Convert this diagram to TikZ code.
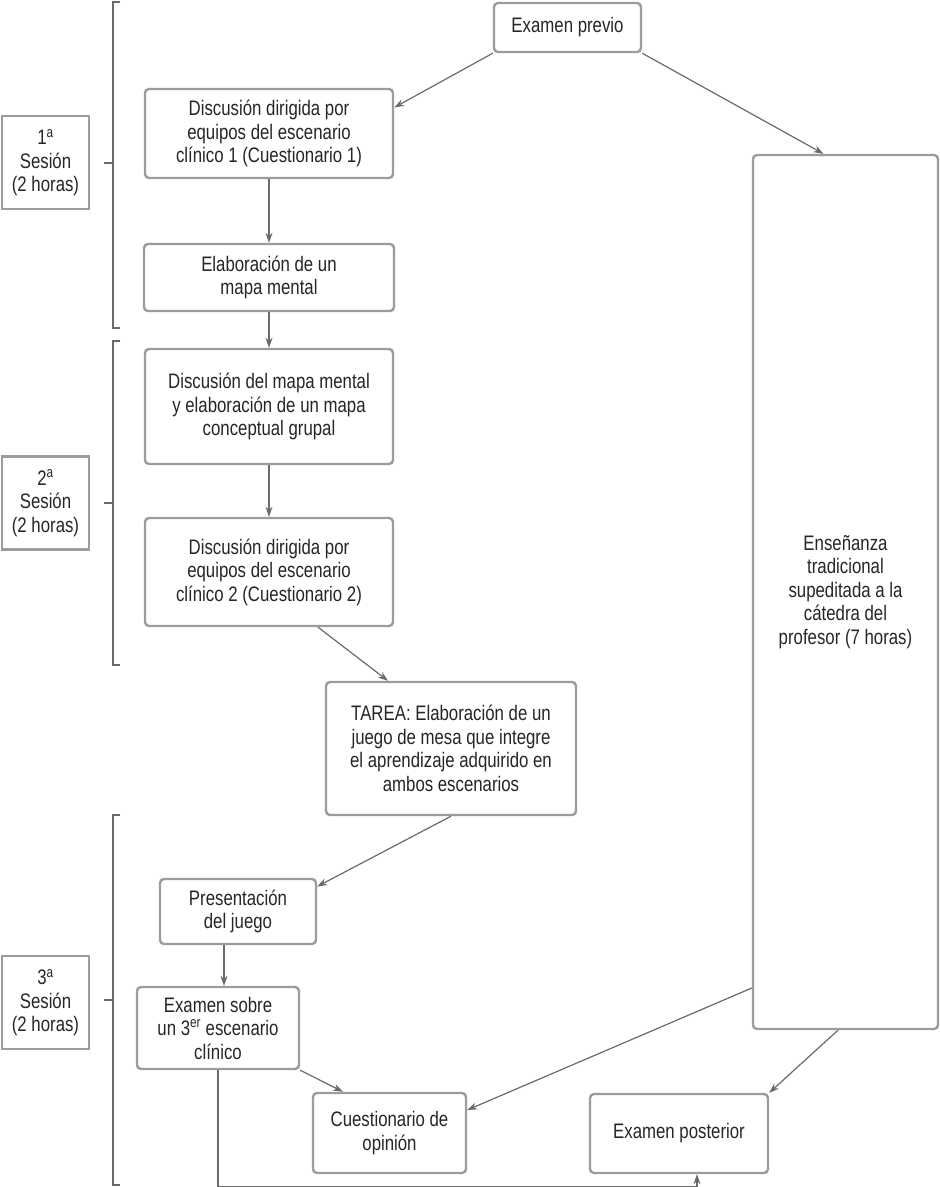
\documentclass[tikz,border=0pt]{standalone}
\usepackage{fontspec}
\setmainfont[FakeStretch=0.8]{Liberation Sans}
\usetikzlibrary{arrows.meta}
\definecolor{boxgray}{HTML}{9C9C9C}
\definecolor{arrgray}{HTML}{6A6A6A}
\definecolor{txtgray}{HTML}{262626}
\begin{document}
\begin{tikzpicture}[x=1pt,y=-1pt,
  box/.style={draw=boxgray, line width=2.4pt, rounded corners=4pt, align=center,
    inner sep=0pt, text=txtgray, font=\fontsize{21}{23.5}\selectfont},
  sbox/.style={draw=boxgray, line width=2.6pt, align=center, inner sep=0pt,
    text=txtgray, font=\fontsize{21}{23.5}\selectfont,
    minimum width=87pt, minimum height=93pt},
  arr/.style={draw=arrgray, line width=1.2pt, -{Stealth[length=10pt,width=7pt]}},
  brk/.style={draw=arrgray, line width=1.2pt}]
\useasboundingbox (0,0) rectangle (940,1187);
\fill[white] (0,0) rectangle (940,1187);

% main boxes
\node[box, minimum width=147pt, minimum height=49pt] (prev) at (567.5,27.5) {Examen previo};
\node[box, minimum width=248pt, minimum height=89pt] (d1) at (269,133.5) {Discusión dirigida por\\equipos del escenario\\clínico 1 (Cuestionario 1)};
\node[box, minimum width=250pt, minimum height=67pt] (elab) at (269,277.5) {Elaboración de un\\mapa mental};
\node[box, minimum width=248pt, minimum height=115pt] (dmm) at (269,406.5) {Discusión del mapa mental\\y elaboración de un mapa\\conceptual grupal};
\node[box, minimum width=248pt, minimum height=108pt] (d2) at (269,572) {Discusión dirigida por\\equipos del escenario\\clínico 2 (Cuestionario 2)};
\node[box, minimum width=250pt, minimum height=133pt] (tarea) at (451,748.5) {TAREA: Elaboración de un\\juego de mesa que integre\\el aprendizaje adquirido en\\ambos escenarios};
\node[box, minimum width=156pt, minimum height=65pt] (pres) at (238,911.5) {Presentación\\del juego};
\node[box, minimum width=162pt, minimum height=82pt] (exs) at (218,1028) {Examen sobre\\un 3\textsuperscript{er} escenario\\clínico};
\node[box, minimum width=153pt, minimum height=80pt] (cues) at (389.5,1133) {Cuestionario de\\opinión};
\node[box, minimum width=178pt, minimum height=79pt] (post) at (679,1133.5) {Examen posterior};
\node[box, minimum width=185pt, minimum height=874pt] (ens) at (845.5,592) {Enseñanza\\tradicional\\supeditada a la\\cátedra del\\profesor (7 horas)};

% session boxes
\node[sbox] (s1) at (45.5,162.5) {1\textsuperscript{a}\\Sesión\\(2 horas)};
\node[sbox] (s2) at (45.5,503) {2\textsuperscript{a}\\Sesión\\(2 horas)};
\node[sbox] (s3) at (45.5,1002.5) {3\textsuperscript{a}\\Sesión\\(2 horas)};

% brackets
\draw[brk] (120,2) -- (113,2) -- (113,328) -- (120,328);
\draw[brk] (113,163) -- (104,163);
\draw[brk] (120,341) -- (113,341) -- (113,665) -- (120,665);
\draw[brk] (113,503) -- (104,503);
\draw[brk] (120,815) -- (113,815) -- (113,1185) -- (120,1185);
\draw[brk] (113,1000) -- (104,1000);

% connectors
\draw[arr] (prev.south west) -- ([yshift=26pt]d1.east);
\draw[arr] (prev.south east) -- ([xshift=-22pt]ens.north);
\draw[arr] (d1.south) -- (elab.north);
\draw[arr] (elab.south) -- (dmm.north);
\draw[arr] (dmm.south) -- (d2.north);
\draw[arr] ([xshift=49pt]d2.south) -- ([xshift=-63pt]tarea.north);
\draw[arr] (tarea.south) -- ([yshift=25pt]pres.east);
\draw[arr] ([xshift=-14pt]pres.south) -- ([xshift=-14pt]pres.south |- exs.north);
\draw[arr] (exs.south east) -- ([xshift=-46.5pt]cues.north);
\draw[arr] ([yshift=-396pt]ens.west) -- ([yshift=23pt]cues.east);
\draw[arr] ([xshift=-7.5pt]ens.south) -- (post.north east);
\draw[arr] (exs.south) -- ++(0,116) -| ([xshift=18pt]post.south);
\end{tikzpicture}
\end{document}
